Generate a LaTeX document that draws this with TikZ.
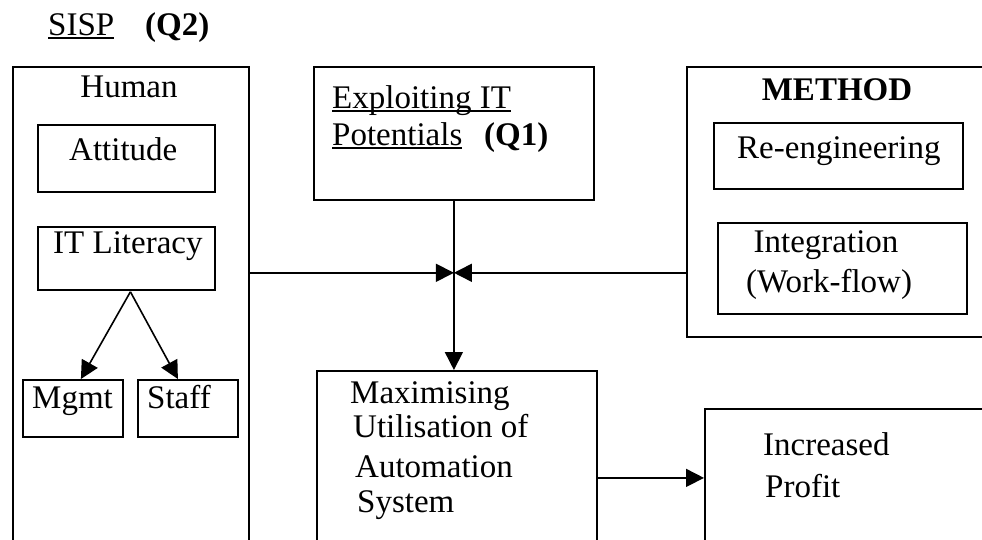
\documentclass[tikz,border=0pt]{standalone}
\usepackage{fontspec}
\setmainfont{Liberation Serif}
\usepackage{tikz}
\usetikzlibrary{calc,positioning,arrows.meta}

\newcommand\thickul[1]{\setbox0\hbox{#1}\rlap{\rule[-4pt]{\wd0}{1.8pt}}\box0}

\tikzset{
	box/.style={draw, line width=1.8pt, inner sep=0pt, anchor=north west},
	txt/.style={font=\fontsize{33}{36}\selectfont, inner sep=0pt, anchor=base west},
	ctxt/.style={txt, anchor=base},
	arr/.style={line width=1.6pt, -{Triangle[length=18pt, width=18pt]}}
}

\begin{document}
\begin{tikzpicture}[x=1pt, y=-1pt]
					\useasboundingbox (0, 0) rectangle (982, 539);
					\clip (0, 0) rectangle (982, 539);

					% title
					\node[txt] at (48, 35) (sisp) {\thickul{SISP}};
					\node[txt] at (145, 35) (q2) {\textbf{(Q2)}};

					% human side
					\node[box, minimum width=236pt, minimum height=500pt] at (12, 66) (human) {};
					\node[ctxt] at (129, 97) (humanlabel) {Human};
					\node[box, minimum width=177pt, minimum height=67pt] at (37, 124) (attitude) {};
					\node[txt] at (69, 160) (attitudelabel) {Attitude};
					\node[box, minimum width=177pt, minimum height=63pt] at (37, 226) (literacy) {};
					\node[txt] at (53, 253) (literacylabel) {IT Literacy};
					\node[box, minimum width=100pt, minimum height=57pt] at (22, 379) (mgmt) {};
					\node[txt] at (32, 408) (mgmtlabel) {Mgmt};
					\node[box, minimum width=100pt, minimum height=57pt] at (137, 379) (staff) {};
					\node[txt] at (147, 408) (stafflabel) {Staff};

					\draw[arr] ($(literacy.south) + (4, 1)$) -- ($(mgmt.north) + (8, 0)$);
					\draw[arr] ($(literacy.south) + (4, 1)$) -- ($(staff.north) + (-10, 0)$);

					% IT potentials
					\node[box, minimum width=280pt, minimum height=133pt] at (313, 66) (exploit) {};
					\node[txt] at (332, 108) (exploitlabel) {\thickul{Exploiting IT}};
					\node[txt] at (332, 145) (potentials) {\thickul{Potentials}};
					\node[txt] at (484, 145) (q1) {\textbf{(Q1)}};

					% method side
					\node[box, minimum width=320pt, minimum height=270pt] at (686, 66) (method) {};
					\node[ctxt] at (837, 100) (methodlabel) {\textbf{METHOD}};
					\node[box, minimum width=249pt, minimum height=66pt] at (713, 122) (reeng) {};
					\node[txt] at (737, 158) (reenglabel) {Re-engineering};
					\node[box, minimum width=249pt, minimum height=91pt] at (717, 222) (integ) {};
					\node[ctxt] at (826, 252) (integlabel) {Integration};
					\node[ctxt] at (829, 292) (workflow) {(Work-flow)};

					% outcome
					\node[box, minimum width=280pt, minimum height=200pt] at (316, 370) (maxim) {};
					\node[txt] at (350, 403) (maxim1) {Maximising};
					\node[txt] at (353, 437) (maxim2) {Utilisation of};
					\node[txt] at (355, 477) (maxim3) {Automation};
					\node[txt] at (357, 512) (maxim4) {System};
					\node[box, minimum width=300pt, minimum height=138pt] at (704, 408) (profit) {};
					\node[txt] at (763, 455) (profit1) {Increased};
					\node[txt] at (765, 497) (profit2) {Profit};

					\coordinate (meet) at ($(exploit.south) + (0, 72)$);
					\draw[arr] (human.east |- meet) -- (meet);
					\draw[arr] (method.west |- meet) -- (meet);
					\draw[arr] (exploit.south) -- (exploit.south |- maxim.north);
					\draw[arr] (maxim.east |- profit.west) -- (profit.west);
				\end{tikzpicture}
\end{document}
